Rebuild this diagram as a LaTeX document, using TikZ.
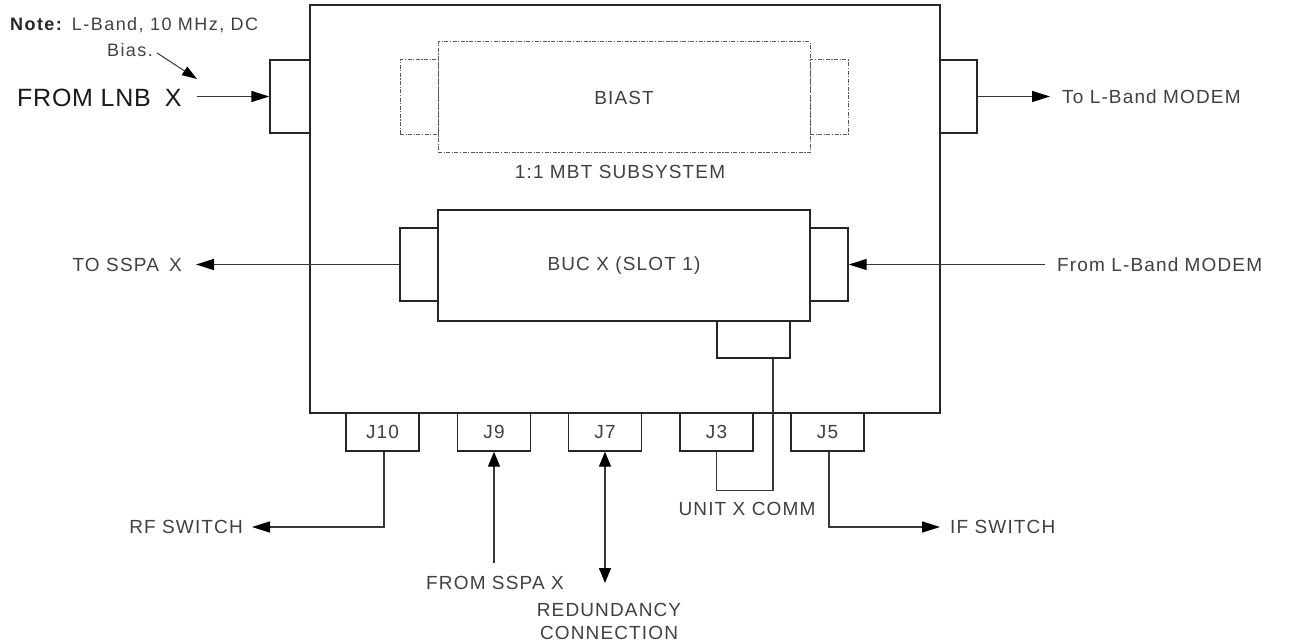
\documentclass[tikz,border=0pt]{standalone}
\usepackage{fontspec}
\setmainfont{Liberation Sans}
\newfontfamily\lblfont[LetterSpace=6]{Liberation Sans}
\newfontfamily\notefam[LetterSpace=8]{Liberation Sans}
\newfontfamily\bigfam[LetterSpace=3]{Liberation Sans}
\newcommand\lbl{\lblfont\fontsize{19}{23}\selectfont}
\newcommand\notefont{\notefam\fontsize{18}{22}\selectfont}
\newcommand\bigfont{\bigfam\fontsize{25}{29}\selectfont}
\usetikzlibrary{arrows.meta,calc}
\definecolor{txt}{gray}{0.25}
\begin{document}
\begin{tikzpicture}[x=1pt,y=-1pt,
  blk/.style={draw=black!85, line width=1.4pt, rectangle, inner sep=0pt, text=txt, font=\lbl},
  dsh/.style={draw=black!65, line width=1pt, dash pattern=on 4pt off 1.5pt on 1.2pt off 1.5pt, rectangle, inner sep=0pt, text=txt, font=\lbl},
  lab/.style={inner sep=0pt, text=txt, font=\lbl},
  con/.style={draw=black!78, line width=1.4pt},
  tip/.style={-{Triangle[length=18pt,width=11pt,fill=black,color=black]}},
  arr/.style={con, tip},
  darr/.style={con, {Triangle[length=15pt,width=12pt,fill=black,color=black]}-{Triangle[length=15pt,width=12pt,fill=black,color=black]}},
  uarr/.style={con, -{Triangle[length=15pt,width=12pt,fill=black,color=black]}},
]
\useasboundingbox (0,0) rectangle (1293,644);
% main enclosure
\node[blk, minimum width=630pt, minimum height=408pt] (main) at (625,209) {};
\node[blk, minimum width=40pt, minimum height=73pt] (lport) at (290,96.5) {};
\node[blk, minimum width=37pt, minimum height=73pt] (rport) at (958.5,96.5) {};
% BIAST
\node[dsh, minimum width=372pt, minimum height=111pt] (biast) at (624,97.5) {BIAST};
\node[dsh, minimum width=38pt, minimum height=75pt] (bl) at (419,97.5) {};
\node[dsh, minimum width=38pt, minimum height=75pt] (br) at (829,97.5) {};
\node[lab] (mbt) at (620,172) {1:1 MBT SUBSYSTEM};
% BUC
\node[blk, minimum width=372pt, minimum height=111pt] (buc) at (624,265.5) {BUC X (SLOT 1)};
\node[blk, minimum width=38pt, minimum height=73pt] (bucl) at (419,264.5) {};
\node[blk, minimum width=38pt, minimum height=73pt] (bucr) at (829,264.5) {};
\node[blk, minimum width=73pt, minimum height=37pt] (comm) at (753.5,339.5) {};
% connectors J
\node[blk, minimum width=73pt, minimum height=38pt] (j10) at (382.5,432) {J10};
\node[blk, minimum width=73pt, minimum height=38pt] (j9) at (494,432) {J9};
\node[blk, minimum width=73pt, minimum height=38pt] (j7) at (605,432) {J7};
\node[blk, minimum width=73pt, minimum height=38pt] (j3) at (716.5,432) {J3};
\node[blk, minimum width=73pt, minimum height=38pt] (j5) at (827.5,432) {J5};
% labels
\node[lab, anchor=west, font=\bigfont, text=black!90] (lnb) at (17,97.5) {FROM LNB\hspace{0.25em} X};
\node[lab, anchor=west] (tolb) at (1062,96.5) {To L-Band MODEM};
\node[lab, anchor=east] (tossa) at (182,264.5) {TO SSPA\hspace{0.2em} X};
\node[lab, anchor=west] (froml) at (1057,264.5) {From L-Band MODEM};
\node[lab, anchor=east] (rf) at (243,527) {RF SWITCH};
\node[lab, anchor=west] (ifs) at (950,527) {IF SWITCH};
\node[lab] (fromsspa) at (495,583) {FROM SSPA X};
\node[lab, align=center] (red) at (609,621) {REDUNDANCY\\CONNECTION};
\node[lab] (unit) at (747,509) {UNIT X COMM};
\node[lab, anchor=west, font=\notefont] (note1) at (10,25) {\textcolor{black!85}{\textbf{Note:}} L-Band, 10 MHz, DC};
\node[lab, font=\notefont] (note2) at (130,50) {Bias.};
\coordinate (notetip) at (197,79);
\coordinate (j7end) at (605,583);
% arrows
\draw[arr] ($(lnb.east |- lport.west)+(15,0)$) -- (lport.west);
\draw[arr] (rport.east) -- ([xshift=-12pt]tolb.west);
\draw[arr] (bucl.west) -- ([xshift=14pt]tossa.east);
\draw[arr] ([xshift=-12pt]froml.west) -- (bucr.east);
\draw[con] ([xshift=19.5pt]comm.south) -- ++(0,132) -| (j3.south);
\draw[arr] ([xshift=1.5pt]j10.south) |- ([xshift=9pt]rf.east);
\draw[arr] ([xshift=1.5pt]j5.south) |- ([xshift=-10pt]ifs.west);
\draw[uarr] ($(j9.south |- fromsspa.north)+(0,-13)$) -- (j9.south);
\draw[darr] (j7.south) -- (j7.south |- j7end);
\draw[con, line width=1pt, -{Triangle[length=15pt,width=10pt,fill=black,color=black]}] ([xshift=4pt,yshift=-3pt]note2.east) -- (notetip);
\end{tikzpicture}
\end{document}
